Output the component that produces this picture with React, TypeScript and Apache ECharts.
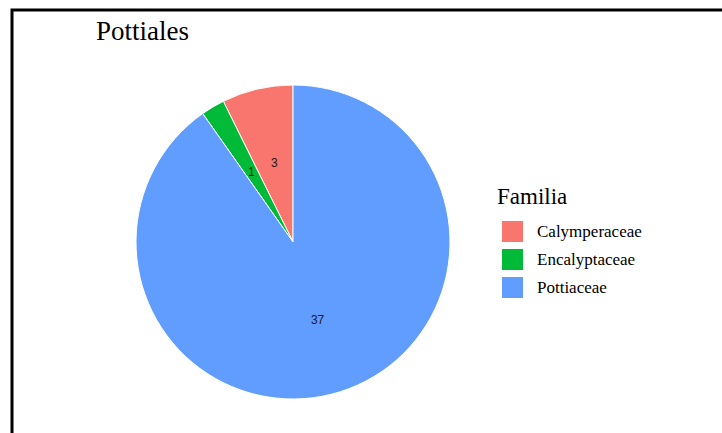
import React, { useEffect, useRef } from "react";
import * as echarts from "echarts";

const categories = ["Calymperaceae", "Encalyptaceae", "Pottiaceae"];
const values = [3, 1, 37];
const colors = ["#F8766D", "#00BA38", "#619CFF"];
const chartTitle = "Pottiales";
const legendTitle = "Familia";

export default function App() {
  const ref = useRef<HTMLDivElement>(null);
  useEffect(() => {
    document.body.style.margin = "0";
    const chart = echarts.init(ref.current!, null, { renderer: "svg" });
    chart.setOption({
      animation: false,
      backgroundColor: "#ffffff",
      title: [
        {
          text: chartTitle,
          left: 91,
          top: 12,
          textStyle: { fontFamily: "Liberation Serif", fontSize: 27, fontWeight: "normal", color: "#000" },
        },
        {
          text: legendTitle,
          left: 492,
          top: 180,
          textStyle: { fontFamily: "Liberation Serif", fontSize: 23, fontWeight: "normal", color: "#000" },
        },
      ],
      legend: {
        orient: "vertical",
        left: 495,
        top: 214,
        itemWidth: 23,
        itemHeight: 23,
        itemGap: 3,
        icon: "rect",
        data: categories,
        textStyle: { fontFamily: "Liberation Serif", fontSize: 17, color: "#000", padding: [0, 0, 0, 8] },
      },
      graphic: [
        {
          type: "rect",
          shape: { x: 12, y: 10, width: 800, height: 600 },
          style: { fill: "none", stroke: "#000", lineWidth: 3 },
          silent: true,
        },
      ],
      series: [
        {
          type: "pie",
          center: [293, 242],
          radius: [0, 157],
          startAngle: 90,
          clockwise: false,
          data: categories.map((c, i) => ({ name: c, value: values[i], itemStyle: { color: colors[i] } })),
          itemStyle: { borderColor: "#fff", borderWidth: 1 },
          label: {
            show: true,
            position: "inside",
            formatter: "{c}",
            fontFamily: "Liberation Sans",
            fontSize: 12,
            color: "#1a1a1a",
          },
          labelLine: { show: false },
          emphasis: { disabled: true },
        },
      ],
    });
    return () => chart.dispose();
  }, []);
  return <div ref={ref} style={{ width: 722, height: 433 }} />;
}
